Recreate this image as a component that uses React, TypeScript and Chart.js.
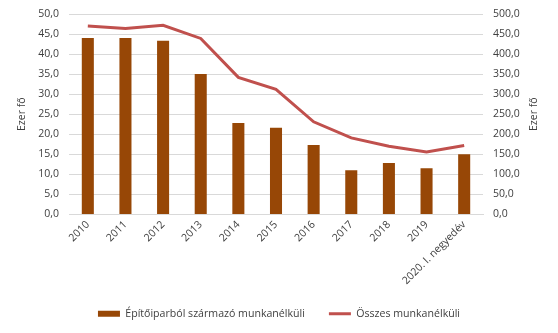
import React, { useEffect, useRef } from "react";
import { Chart, registerables } from "chart.js";

Chart.register(...registerables);

const categories = ["2010", "2011", "2012", "2013", "2014", "2015", "2016", "2017", "2018", "2019", "2020. I. negyedév"];
const constructionUnemployed = [44.0, 44.0, 43.3, 35.0, 22.8, 21.6, 17.3, 11.0, 12.8, 11.5, 15.0];
const totalUnemployed = [470, 464, 472, 439, 342, 312, 231, 191, 170, 156, 172];
const leftTicks = [0, 5, 10, 15, 20, 25, 30, 35, 40, 45, 50];
const rightTicks = [0, 50, 100, 150, 200, 250, 300, 350, 400, 450, 500];
const axisTitle = "Ezer fő";

const FONT = "'Open Sans', sans-serif";
const FS = 10.5;
const TXT = "#404040";
const fmt = (v: number) => v.toFixed(1).replace(".", ",");

const titlePlugin = {
  id: "sideTitles",
  afterDraw(chart: any) {
    const { ctx, chartArea } = chart;
    const cy = (chartArea.top + chartArea.bottom) / 2;
    ctx.save();
    ctx.fillStyle = TXT;
    ctx.font = `${FS}px ${FONT}`;
    ctx.textAlign = "center";
    ctx.textBaseline = "middle";
    [22, 534].forEach((x) => {
      ctx.save();
      ctx.translate(x, cy);
      ctx.rotate(-Math.PI / 2);
      ctx.fillText(axisTitle, 0, 0);
      ctx.restore();
    });
    ctx.restore();
  },
};

export default function App() {
  const ref = useRef<HTMLCanvasElement | null>(null);
  useEffect(() => {
    document.body.style.margin = "0";
    const ctx = ref.current!;
    const chart = new Chart(ctx, {
      data: {
        labels: categories,
        datasets: [
          {
            type: "line",
            label: "Összes munkanélküli",
            data: totalUnemployed,
            yAxisID: "y2",
            borderColor: "#C0504D",
            backgroundColor: "#C0504D",
            borderWidth: 3,
            pointRadius: 0,
            tension: 0,
            order: 0,
          },
          {
            type: "bar",
            label: "Építőiparból származó munkanélküli",
            data: constructionUnemployed,
            yAxisID: "y",
            backgroundColor: "#974706",
            categoryPercentage: 1,
            barPercentage: 0.32,
            order: 1,
          },
        ],
      } as any,
      options: {
        animation: false,
        responsive: false,
        maintainAspectRatio: false,
        layout: { padding: { left: 0, right: 0, top: 14, bottom: 4 } },
        font: { family: FONT, size: FS },
        plugins: {
          tooltip: { enabled: false },
          legend: {
            position: "bottom",
            reverse: true,
            labels: {
              color: TXT,
              font: { family: FONT, size: 10.6 },
              usePointStyle: true,
              pointStyleWidth: 22,
              boxHeight: 6,
              padding: 24,
              generateLabels: (c: any) => {
                const items = Chart.defaults.plugins.legend.labels.generateLabels(c);
                items.forEach((it: any) => {
                  const ds = c.data.datasets[it.datasetIndex];
                  if (ds.type === "line") {
                    it.pointStyle = "line";
                    it.lineWidth = 3;
                    it.strokeStyle = "#C0504D";
                  } else {
                    it.pointStyle = "rect";
                    it.lineWidth = 0;
                    it.fillStyle = "#974706";
                    it.strokeStyle = "#974706";
                  }
                });
                return items;
              },
            },
          },
        },
        scales: {
          x: {
            afterFit: (s: any) => { s.height = 70; },
            grid: { display: false, drawTicks: false },
            border: { color: "#d9d9d9" },
            ticks: { color: TXT, font: { family: FONT, size: FS }, minRotation: 45, maxRotation: 45, padding: 4, autoSkip: false },
          },
          y: {
            position: "left",
            min: 0,
            max: 50,
            afterFit: (s: any) => { s.width = 69; s.paddingTop = 0; s.paddingBottom = 0; },
            afterBuildTicks: (s: any) => { s.ticks = leftTicks.map((v) => ({ value: v })); },
            grid: { color: "#d9d9d9", drawTicks: false },
            border: { display: false },
            ticks: { color: TXT, font: { family: FONT, size: FS }, padding: 10, callback: (v: any) => fmt(Number(v)) },
          },
          y2: {
            position: "right",
            min: 0,
            max: 500,
            afterFit: (s: any) => { s.width = 75; s.paddingTop = 0; s.paddingBottom = 0; },
            afterBuildTicks: (s: any) => { s.ticks = rightTicks.map((v) => ({ value: v })); },
            grid: { display: false, drawTicks: false },
            border: { display: false },
            ticks: { color: TXT, font: { family: FONT, size: FS }, padding: 10, callback: (v: any) => fmt(Number(v)) },
          },
        },
      } as any,
      plugins: [titlePlugin],
    });
    return () => chart.destroy();
  }, []);
  return (
    <div style={{ width: 558, height: 333, background: "#fff" }}>
      <canvas ref={ref} width={558} height={333} style={{ display: "block" }} />
    </div>
  );
}
